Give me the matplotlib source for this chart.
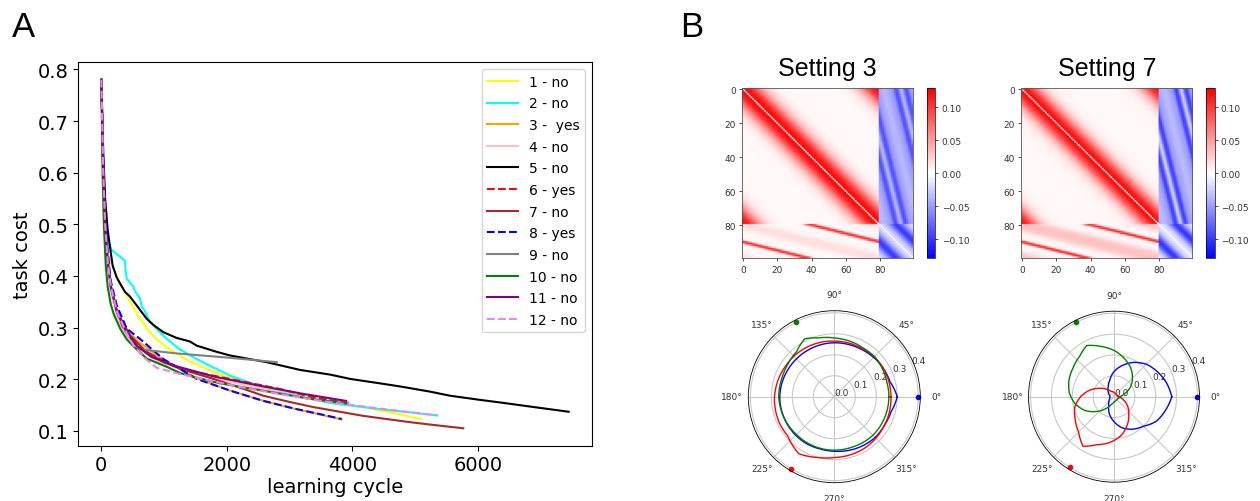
import numpy as np
import matplotlib
matplotlib.use('Agg')
import matplotlib.pyplot as plt

W, H = 1260, 502

# ---------------- Panel A data (learning curves) ----------------
labels = ['1 - no', '2 - no', '3 -  yes', '4 - no', '5 - no', '6 - yes', '7 - no',
          '8 - yes', '9 - no', '10 - no', '11 - no', '12 - no']
colors = ['yellow', 'cyan', 'orange', 'pink', 'black', 'red', 'brown',
          'blue', 'gray', 'green', 'purple', 'violet']
styles = ['-', '-', '-', '-', '-', '--', '-', '--', '-', '-', '-', '--']

x1 = [0, 30, 60, 100, 190, 300, 405, 550, 723, 900, 1148, 1400, 1786, 2200, 2583, 3000, 3380, 3800, 4176, 4600, 5096]
y1 = [0.78, 0.52, 0.47, 0.44, 0.415, 0.385, 0.363, 0.33, 0.298, 0.275, 0.253, 0.235, 0.214, 0.196, 0.181, 0.171, 0.162, 0.153, 0.146, 0.136, 0.123]

x2 = [0, 30, 60, 100, 166, 300, 378, 385, 405, 510, 540, 617, 644, 680, 776, 900, 1042, 1250, 1520, 1800, 2051, 2583, 3114, 3645, 4442, 5356]
y2 = [0.78, 0.62, 0.52, 0.47, 0.45, 0.437, 0.429, 0.41, 0.395, 0.379, 0.37, 0.356, 0.34, 0.335, 0.311, 0.295, 0.278, 0.258, 0.239, 0.222, 0.207, 0.184, 0.168, 0.154, 0.142, 0.130]

x3 = [0, 30, 60, 100, 150, 250, 400, 600, 1000, 1500, 2000, 2500, 3000, 3400, 3830]
y3 = [0.78, 0.60, 0.50, 0.43, 0.38, 0.33, 0.295, 0.272, 0.237, 0.203, 0.180, 0.161, 0.145, 0.134, 0.122]

x4 = [0, 30, 60, 100, 150, 250, 400, 600, 900, 1300, 1900, 2600, 3300, 3950]
y4 = [0.78, 0.59, 0.49, 0.42, 0.37, 0.32, 0.285, 0.258, 0.235, 0.217, 0.198, 0.182, 0.168, 0.156]

x5 = [0, 30, 60, 100, 139, 180, 245, 300, 378, 457, 550, 723, 830, 989, 1200, 1414, 1520, 1839, 2051, 2636, 2848, 3167, 3645, 3966, 4442, 4763, 5239, 5560, 6037, 6357, 6900, 7450]
y5 = [0.78, 0.64, 0.55, 0.49, 0.455, 0.42, 0.397, 0.385, 0.369, 0.36, 0.345, 0.317, 0.305, 0.291, 0.28, 0.273, 0.265, 0.253, 0.246, 0.233, 0.227, 0.218, 0.209, 0.2006, 0.192, 0.186, 0.176, 0.168, 0.160, 0.155, 0.146, 0.137]

x6 = [0, 30, 60, 100, 150, 250, 351, 500, 723, 1000, 1254, 1786, 2317, 2848, 3380, 3858, 3950]
y6 = [0.78, 0.60, 0.50, 0.43, 0.38, 0.33, 0.298, 0.275, 0.253, 0.235, 0.220, 0.207, 0.194, 0.181, 0.165, 0.155, 0.153]

x7 = [0, 30, 60, 100, 150, 250, 457, 700, 989, 1400, 1786, 2200, 2583, 3000, 3380, 3800, 4176, 4600, 4975, 5400, 5770]
y7 = [0.78, 0.60, 0.50, 0.43, 0.38, 0.33, 0.285, 0.255, 0.233, 0.215, 0.2006, 0.184, 0.168, 0.156, 0.146, 0.137, 0.129, 0.122, 0.116, 0.110, 0.105]

x8 = [0, 30, 60, 100, 150, 245, 405, 617, 989, 1520, 2051, 2583, 3114, 3500, 3832]
y8 = [0.78, 0.62, 0.52, 0.45, 0.39, 0.343, 0.298, 0.278, 0.239, 0.2006, 0.178, 0.158, 0.142, 0.132, 0.123]

x9 = [0, 30, 60, 100, 150, 250, 400, 600, 1200, 2000, 2797]
y9 = [0.78, 0.60, 0.50, 0.43, 0.38, 0.33, 0.29, 0.258, 0.25, 0.242, 0.233]

x10 = [0, 20, 40, 70, 100, 150, 200, 300, 400, 500, 723, 1042, 1254, 1520, 1892, 2477, 3274, 3900]
y10 = [0.78, 0.60, 0.50, 0.42, 0.38, 0.345, 0.325, 0.298, 0.278, 0.265, 0.24, 0.224, 0.212, 0.203, 0.192, 0.180, 0.163, 0.153]

x11 = [0, 30, 60, 100, 150, 250, 405, 564, 800, 1200, 1800, 2500, 3200, 3900]
y11 = [0.78, 0.60, 0.50, 0.43, 0.38, 0.33, 0.291, 0.265, 0.243, 0.225, 0.205, 0.188, 0.172, 0.158]

x12 = [0, 30, 60, 100, 150, 250, 400, 510, 700, 883, 1254, 1700, 2300, 2900, 3500, 4000, 4500, 5000, 5356]
y12 = [0.78, 0.60, 0.50, 0.43, 0.38, 0.33, 0.29, 0.265, 0.24, 0.222, 0.210, 0.198, 0.183, 0.170, 0.158, 0.150, 0.142, 0.135, 0.130]

xs = [x1, x2, x3, x4, x5, x6, x7, x8, x9, x10, x11, x12]
ys = [y1, y2, y3, y4, y5, y6, y7, y8, y9, y10, y11, y12]

# ---------------- Panel B data (connectivity profiles) ----------------
# E->E weight by ring distance 0..40
ee_s3 = [0.0, 0.125, 0.122, 0.118, 0.113, 0.106, 0.098, 0.088, 0.078, 0.068,
         0.058, 0.049, 0.041, 0.034, 0.028, 0.023, 0.018, 0.015, 0.012, 0.010,
         0.008, 0.007, 0.006, 0.005, 0.005, 0.004, 0.004, 0.004, 0.004, 0.004,
         0.004, 0.004, 0.004, 0.004, 0.004, 0.004, 0.004, 0.004, 0.004, 0.004, 0.004]
ee_s7 = [0.0, 0.125, 0.12, 0.115, 0.108, 0.1, 0.091, 0.081, 0.071, 0.061,
         0.051, 0.043, 0.035, 0.029, 0.023, 0.018, 0.015, 0.012, 0.010, 0.008,
         0.007, 0.006, 0.006, 0.005, 0.005, 0.005, 0.004, 0.004, 0.004, 0.004,
         0.004, 0.004, 0.004, 0.004, 0.004, 0.004, 0.004, 0.004, 0.004, 0.004, 0.004]
# lower-left block by stripe distance 0..40
ie_s3 = [0.11, 0.105, 0.09, 0.065, 0.04, 0.02, 0.01, 0.006, 0.004, 0.004,
         0.004, 0.004, 0.004, 0.004, 0.004, 0.004, 0.004, 0.004, 0.004, 0.004,
         0.004, 0.005, 0.005, 0.006, 0.006, 0.007, 0.007, 0.008, 0.009, 0.010,
         0.011, 0.012, 0.013, 0.014, 0.015, 0.016, 0.016, 0.017, 0.017, 0.017, 0.017]
ie_s7 = [0.11, 0.105, 0.09, 0.065, 0.04, 0.02, 0.01, 0.006, 0.004, 0.004,
         0.004, 0.004, 0.004, 0.004, 0.004, 0.005, 0.005, 0.006, 0.007, 0.008,
         0.009, 0.010, 0.012, 0.013, 0.015, 0.017, 0.019, 0.021, 0.023, 0.025,
         0.026, 0.027, 0.028, 0.029, 0.030, 0.030, 0.031, 0.031, 0.031, 0.031, 0.031]
# upper-right block by stripe distance 0..40
ei_s3 = [-0.035, -0.036, -0.04, -0.046, -0.053, -0.06, -0.067, -0.073, -0.078, -0.082,
         -0.085, -0.087, -0.088, -0.087, -0.085, -0.081, -0.076, -0.07, -0.065, -0.06,
         -0.056, -0.053, -0.051, -0.05, -0.049, -0.048, -0.047, -0.046, -0.045, -0.044,
         -0.043, -0.042, -0.041, -0.04, -0.039, -0.038, -0.037, -0.037, -0.036, -0.036, -0.036]
ei_s7 = [-0.022, -0.024, -0.03, -0.038, -0.048, -0.058, -0.068, -0.077, -0.084, -0.089,
         -0.093, -0.095, -0.096, -0.095, -0.092, -0.087, -0.08, -0.072, -0.065, -0.059,
         -0.055, -0.052, -0.05, -0.049, -0.048, -0.047, -0.046, -0.045, -0.044, -0.043,
         -0.042, -0.041, -0.04, -0.039, -0.038, -0.037, -0.036, -0.036, -0.035, -0.035, -0.035]
# lower-right block by ring distance 0..10
ii_s3 = [0.0, -0.02, -0.022, -0.028, -0.036, -0.046, -0.058, -0.072, -0.085, -0.095, -0.1]
ii_s7 = [0.0, -0.015, -0.018, -0.022, -0.03, -0.04, -0.055, -0.07, -0.085, -0.097, -0.102]

vlim = 0.129
heat_ticks = [0, 20, 40, 60, 80]

# ---------------- Polar tuning curves ----------------
b3_deg = [0, 15, 30, 45, 60, 75, 90, 105, 120, 135, 150, 165, 180, 195, 210, 225, 240, 255, 270, 285, 300, 315, 330, 345]
b3_r = [0.30, 0.275, 0.27, 0.265, 0.26, 0.258, 0.257, 0.256, 0.255, 0.255, 0.256, 0.258, 0.26, 0.26, 0.26, 0.26, 0.26, 0.258, 0.26, 0.265, 0.27, 0.275, 0.275, 0.28]
g3_deg = [0, 15, 30, 45, 60, 75, 90, 105, 117, 130, 145, 160, 180, 200, 225, 250, 270, 290, 315, 340]
g3_r = [0.26, 0.26, 0.265, 0.27, 0.27, 0.275, 0.28, 0.29, 0.31, 0.28, 0.27, 0.265, 0.265, 0.26, 0.255, 0.255, 0.255, 0.255, 0.26, 0.26]
r3_deg = [0, 30, 45, 60, 90, 120, 150, 180, 205, 220, 238, 255, 270, 300, 330]
r3_r = [0.27, 0.27, 0.27, 0.265, 0.265, 0.27, 0.275, 0.285, 0.29, 0.29, 0.32, 0.30, 0.29, 0.285, 0.275]

b7_deg = [0, 15, 30, 45, 60, 75, 90, 105, 120, 135, 150, 165, 180, 195, 210, 225, 240, 255, 270, 285, 300, 315, 330, 345]
b7_r = [0.277, 0.26, 0.24, 0.22, 0.19, 0.155, 0.12, 0.08, 0.055, 0.04, 0.03, 0.02, 0.02, 0.02, 0.025, 0.035, 0.05, 0.085, 0.12, 0.155, 0.18, 0.20, 0.235, 0.255]
g7_deg = [0, 15, 30, 45, 60, 75, 90, 105, 118, 130, 145, 160, 175, 190, 205, 220, 235, 250, 270, 300, 330]
g7_r = [0.03, 0.05, 0.09, 0.125, 0.16, 0.19, 0.222, 0.25, 0.278, 0.255, 0.24, 0.23, 0.215, 0.19, 0.155, 0.11, 0.07, 0.04, 0.025, 0.02, 0.02]
r7_deg = [0, 30, 60, 90, 120, 135, 150, 165, 180, 195, 210, 225, 238, 250, 265, 280, 295, 310, 325, 340]
r7_r = [0.02, 0.015, 0.015, 0.02, 0.03, 0.05, 0.08, 0.12, 0.16, 0.195, 0.215, 0.24, 0.28, 0.245, 0.22, 0.19, 0.15, 0.11, 0.08, 0.05]

pref3_deg = [0, 117, 239]
pref7_deg = [0, 117, 238]
pref_colors = ['blue', 'green', 'red']
pref_r = 0.4

# ---------------- Figure ----------------
fig = plt.figure(figsize=(W / 100, H / 100), dpi=100)
arial = 'Liberation Sans'

# Panel A
axA = fig.add_axes([78 / W, 1 - 446.7 / H, 514 / W, 383.4 / H])
for x, y, c, ls, lab in zip(xs, ys, colors, styles, labels):
    axA.plot(x, y, color=c, ls=ls, lw=1.5, label=lab)
axA.set_xticks([0, 2000, 4000, 6000])
axA.set_yticks([0.1, 0.2, 0.3, 0.4, 0.5, 0.6, 0.7, 0.8])
axA.tick_params(labelsize=14)
axA.set_xlabel('learning cycle', fontsize=14, labelpad=2)
axA.set_ylabel('task cost', fontsize=14)
axA.legend(loc='upper right', fontsize=10, labelspacing=0.55, handlelength=2.2)

fig.text(12 / W, 1 - 37 / H, 'A', fontsize=25, family=arial, va='baseline')
fig.text(680 / W, 1 - 37 / H, 'B', fontsize=25, family=arial, va='baseline')


def build(ee, ie, ei, ii):
    M = np.zeros((100, 100))
    r, c = np.indices((80, 80))
    d = np.abs(r - c)
    d = np.minimum(d, 80 - d)
    M[:80, :80] = np.asarray(ee)[d]
    r, c = np.indices((20, 80))
    v = (c - 4 * r - 40) % 80
    v = np.minimum(v, 80 - v)
    M[80:, :80] = np.asarray(ie)[v]
    r, c = np.indices((80, 20))
    u = (r - 4 * c + 50) % 80
    u = np.minimum(u, 80 - u)
    M[:80, 80:] = np.asarray(ei)[u]
    r, c = np.indices((20, 20))
    w = (c - r) % 20
    w = np.minimum(w, 20 - w)
    M[80:, 80:] = np.asarray(ii)[w]
    return M


heat_specs = [
    ('Setting 3', build(ee_s3, ie_s3, ei_s3, ii_s3), 742.3, 926.7),
    ('Setting 7', build(ee_s7, ie_s7, ei_s7, ii_s7), 1021.3, 1206.0),
]
for title, M, hx, cx in heat_specs:
    ax = fig.add_axes([hx / W, 1 - 259.3 / H, 171 / W, 170 / H])
    im = ax.imshow(M, cmap='bwr', vmin=-vlim, vmax=vlim, aspect='auto')
    ax.set_xticks(heat_ticks)
    ax.set_yticks(heat_ticks)
    ax.tick_params(labelsize=6.5, length=2.5, width=0.6, pad=2, colors='#333333')
    for s in ax.spines.values():
        s.set_linewidth(0.6)
        s.set_color('#555555')
    ax.set_title(title, fontsize=18, family=arial, pad=9.5)
    cax = fig.add_axes([cx / W, 1 - 259.3 / H, 8.6 / W, 170 / H])
    cb = fig.colorbar(im, cax=cax)
    cb.set_ticks([0.10, 0.05, 0.0, -0.05, -0.10])
    cb.ax.tick_params(labelsize=6.5, length=2.5, width=0.6, pad=2, colors='#333333')
    cb.outline.set_linewidth(0.5)

polar_specs = [
    (834.3, 86.0, [(b3_deg, b3_r, 'blue'), (r3_deg, r3_r, 'red'), (g3_deg, g3_r, 'green')], pref3_deg),
    (1114.0, 85.5, [(b7_deg, b7_r, 'blue'), (r7_deg, r7_r, 'red'), (g7_deg, g7_r, 'green')], pref7_deg),
]
for cxp, rad, curves, prefs in polar_specs:
    cy = 397.7
    axp = fig.add_axes([(cxp - rad) / W, 1 - (cy + rad) / H, 2 * rad / W, 2 * rad / H],
                       projection='polar')
    for deg, rr, col in curves:
        th = np.deg2rad(list(deg) + [deg[0] + 360])
        ln, = axp.plot(th, list(rr) + [rr[0]], color=col, lw=1.0)
        # draw each segment as a polar arc rather than a chord
        ln.get_path()._interpolation_steps = 12
    for pdeg, pc in zip(prefs, pref_colors):
        axp.plot([np.deg2rad(pdeg)], [pref_r], 'o', color=pc, ms=3, clip_on=False)
    axp.set_ylim(0, 0.41)
    axp.set_yticks([0.0, 0.1, 0.2, 0.3, 0.4])
    axp.tick_params(labelsize=6.5, colors='#333333', pad=1)
    axp.grid(color='#c8c8c8', lw=0.8)
    axp.spines['polar'].set_linewidth(0.6)

fig.savefig('out.png', dpi=100)
